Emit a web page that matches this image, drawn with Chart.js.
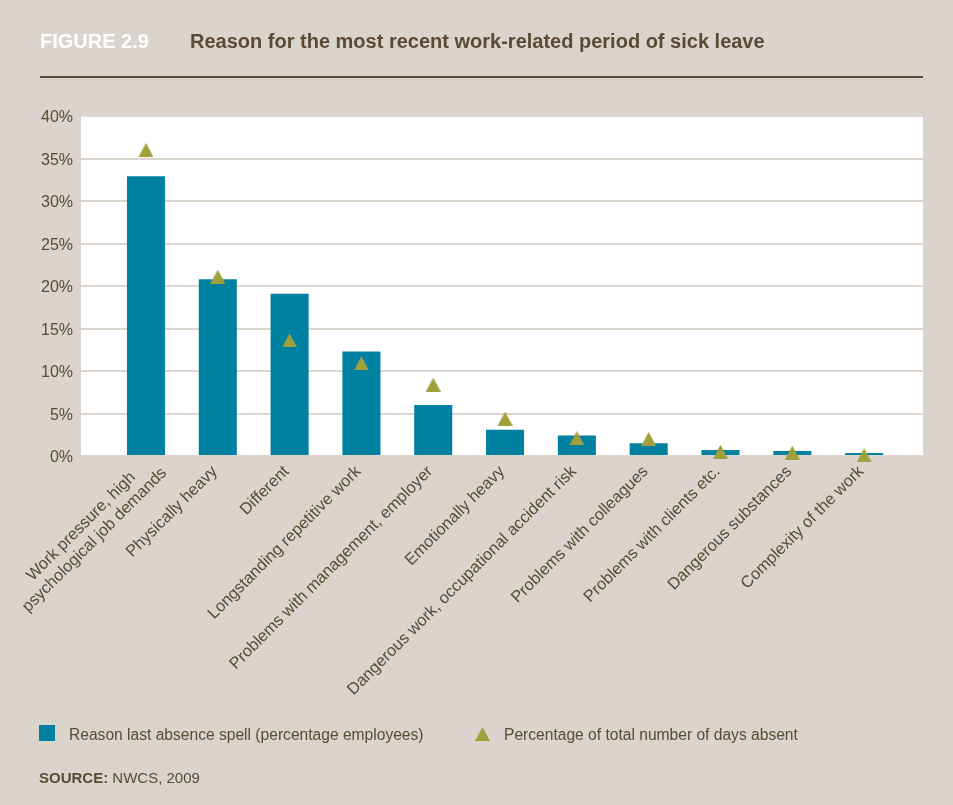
<!DOCTYPE html>
<html>
<head>
<meta charset="utf-8">
<script src="https://cdn.jsdelivr.net/npm/chart.js@4.4.1/dist/chart.umd.min.js"></script>
<style>
  body { margin: 0; background: #dbd4cc; width: 953px; height: 805px; overflow: hidden; position: relative;
         font-family: "Liberation Sans", Arial, sans-serif; color: #5b4a36; }
  #chart { position: absolute; left: 0; top: 0; }
  .fig { position: absolute; left: 40px; top: 29px; font-size: 20px; font-weight: bold; color: #fff; white-space: nowrap; line-height: 24px; }
  .title { position: absolute; left: 190px; top: 29px; font-size: 20px; font-weight: bold; color: #5b4a36; white-space: nowrap; line-height: 24px; }
  .rule { position: absolute; left: 40px; top: 76px; width: 883px; height: 2px; background: #5b4a36; }
  .legend { position: absolute; top: 724px; font-size: 15.6px; line-height: 22px; white-space: nowrap; }
  .sw { position: absolute; left: 39px; top: 725px; width: 16px; height: 16px; background: #0081a2; }
  .tri { position: absolute; left: 475px; top: 727px; }
  .source { position: absolute; left: 39px; top: 768px; font-size: 15px; line-height: 20px; white-space: nowrap; }
</style>
</head>
<body>
<canvas id="chart" width="953" height="805"></canvas>
<div class="fig">FIGURE 2.9</div>
<div class="title">Reason for the most recent work-related period of sick leave</div>
<div class="rule"></div>
<div class="sw"></div>
<div class="legend" style="left:69px">Reason last absence spell (percentage employees)</div>
<svg class="tri" width="15" height="14"><polygon points="7.5,0 15,14 0,14" fill="#a0a13c"/></svg>
<div class="legend" style="left:504px">Percentage of total number of days absent</div>
<div class="source"><b>SOURCE:</b> NWCS, 2009</div>
<script>
const reasons = [
  ["Work pressure, high", "psychological job demands"],
  "Physically heavy",
  "Different",
  "Longstanding repetitive work",
  "Problems with management, employer",
  "Emotionally heavy",
  "Dangerous work, occupational accident risk",
  "Problems with colleagues",
  "Problems with clients etc.",
  "Dangerous substances",
  "Complexity of the work"
];
// share of employees naming the reason for their last absence spell (%)
const spellPct = [32.9, 20.8, 19.1, 12.3, 6.0, 3.1, 2.4, 1.5, 0.7, 0.6, 0.35];
// share of all days absent (%)
const daysPct = [36.0, 21.1, 13.6, 10.9, 8.4, 4.4, 2.1, 2.0, 0.5, 0.4, 0.1];
const yTicks = [0, 5, 10, 15, 20, 25, 30, 35, 40];

const textColor = "#5b4a36";
const labelFont = '16.4px "Liberation Sans"';

// triangle marker, drawn centred on the value
const tri = document.createElement("canvas");
tri.width = 15;
tri.height = 14;
const tctx = tri.getContext("2d");
tctx.fillStyle = "#a0a13c";
tctx.beginPath();
tctx.moveTo(7.5, 0);
tctx.lineTo(15, 14);
tctx.lineTo(0, 14);
tctx.closePath();
tctx.fill();

const plotBg = {
  id: "plotBg",
  beforeDraw(chart) {
    const a = chart.chartArea;
    const c = chart.ctx;
    c.save();
    c.fillStyle = "#ffffff";
    c.fillRect(a.left, a.top, a.right - a.left, a.bottom - a.top);
    c.restore();
  }
};

// category names under the bars, rotated 45deg; two-line names are centred line by line
const xLabels = {
  id: "xLabels",
  afterDraw(chart) {
    const xs = chart.scales.x;
    const c = chart.ctx;
    const lh = 19;
    c.save();
    c.font = labelFont;
    c.fillStyle = textColor;
    c.textAlign = "center";
    c.textBaseline = "middle";
    reasons.forEach((name, i) => {
      const lines = Array.isArray(name) ? name : [name];
      const w = Math.max(...lines.map((l) => c.measureText(l).width));
      const right = lines.length > 1 ? 14 : 0;
      const top = lines.length > 1 ? -3 : 0;
      c.save();
      c.translate(xs.getPixelForValue(i) - 3, chart.chartArea.bottom + 13);
      c.rotate(-Math.PI / 4);
      lines.forEach((l, j) => c.fillText(l, right - w / 2, top + j * lh));
      c.restore();
    });
    c.restore();
  }
};

new Chart(document.getElementById("chart"), {
  type: "bar",
  data: {
    datasets: [
      {
        type: "line",
        label: "Percentage of total number of days absent",
        data: daysPct.map((v, i) => ({ x: i, y: v })),
        showLine: false,
        pointStyle: tri,
        pointRadius: 7,
        clip: false,
        order: 0
      },
      {
        label: "Reason last absence spell (percentage employees)",
        data: spellPct.map((v, i) => ({ x: i, y: v })),
        backgroundColor: "#0081a2",
        categoryPercentage: 1,
        barPercentage: 0.53,
        order: 1
      }
    ]
  },
  options: {
    responsive: false,
    devicePixelRatio: 1,
    animation: false,
    layout: { padding: { left: 0, top: 116, right: 30, bottom: 99 } },
    plugins: {
      legend: { display: false },
      tooltip: { enabled: false }
    },
    scales: {
      x: {
        type: "linear",
        offset: false,
        min: -0.905,
        max: 10.82,
        grid: { display: false, offset: false },
        border: { display: false },
        ticks: { display: false, stepSize: 1, includeBounds: false, maxTicksLimit: 20 },
        afterFit(scale) {
          scale.height = 250;
          scale.paddingLeft = 0;
          scale.paddingRight = 0;
        }
      },
      y: {
        min: 0,
        max: 40,
        afterBuildTicks(scale) {
          scale.ticks = yTicks.map((v) => ({ value: v }));
        },
        grid: { color: "#ddd6cf", lineWidth: 2, drawTicks: false },
        border: { display: false },
        ticks: {
          padding: 8,
          labelOffset: 2,
          color: textColor,
          font: { family: "Liberation Sans", size: 16 },
          callback: (v) => v + "%"
        },
        afterFit(scale) {
          scale.width = 81;
          scale.paddingTop = 0;
          scale.paddingBottom = 0;
        }
      }
    }
  },
  plugins: [plotBg, xLabels]
});
</script>
</body>
</html>
